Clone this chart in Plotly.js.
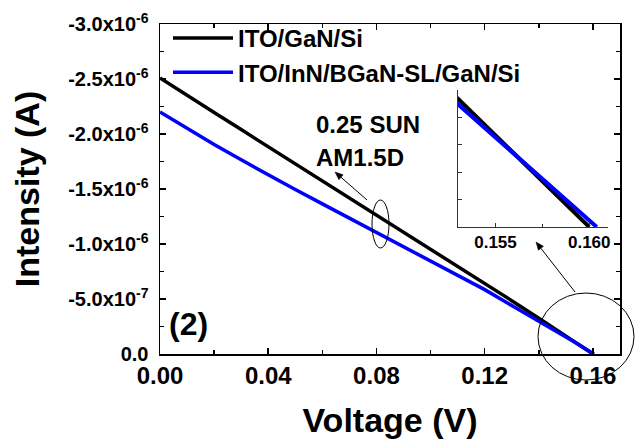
<!DOCTYPE html>
<html>
<head>
<meta charset="utf-8">
<script src="https://cdn.plot.ly/plotly-3.0.1.min.js"></script>
<style>html,body{margin:0;padding:0;background:#fff;}#chart{width:635px;height:439px;}</style>
</head>
<body>
<div id="chart"></div>
<script>
// ---- data ----
const seriesNames = ['ITO/GaN/Si', 'ITO/InN/BGaN-SL/GaN/Si'];
const voltageGaN = [0, 0.01, 0.02, 0.03, 0.04, 0.05, 0.06, 0.07, 0.08, 0.09, 0.10, 0.11, 0.12, 0.13, 0.14, 0.15, 0.153, 0.160];
const currentGaN = [-2.51e-6, -2.35e-6, -2.195e-6, -2.04e-6, -1.885e-6, -1.725e-6, -1.57e-6, -1.42e-6, -1.265e-6, -1.11e-6, -0.955e-6, -0.795e-6, -0.64e-6, -0.485e-6, -0.325e-6, -0.165e-6, -0.117e-6, 0];
const voltageSL = [0, 0.01, 0.02, 0.03, 0.04, 0.05, 0.06, 0.07, 0.08, 0.09, 0.10, 0.11, 0.12, 0.13, 0.14, 0.15, 0.153, 0.1604];
const currentSL = [-2.20e-6, -2.05e-6, -1.905e-6, -1.765e-6, -1.628e-6, -1.495e-6, -1.365e-6, -1.235e-6, -1.105e-6, -0.977e-6, -0.85e-6, -0.72e-6, -0.585e-6, -0.44e-6, -0.30e-6, -0.16e-6, -0.112e-6, 0];
const yTickVals = [0, -5e-7, -1e-6, -1.5e-6, -2e-6, -2.5e-6, -3e-6];
const yTickText = ['0.0', '-5.0x10<sup>-7</sup>', '-1.0x10<sup>-6</sup>', '-1.5x10<sup>-6</sup>', '-2.0x10<sup>-6</sup>', '-2.5x10<sup>-6</sup>', '-3.0x10<sup>-6</sup>'];
const xTickVals = [0, 0.04, 0.08, 0.12, 0.16];
const xTickText = ['0.00', '0.04', '0.08', '0.12', '0.16'];
const insetTickVals = [0.155, 0.160];
const insetTickText = ['0.155', '0.160'];

const FONT = 'Liberation Sans, Arial, Helvetica, sans-serif';
const BLACK = '#000000';
const BLUE = '#0000FF';

const traces = [
  {x: voltageGaN, y: currentGaN, name: seriesNames[0], mode: 'lines', line: {color: BLACK, width: 3.5}, xaxis: 'x', yaxis: 'y'},
  {x: voltageSL, y: currentSL, name: seriesNames[1], mode: 'lines', line: {color: BLUE, width: 3.5}, xaxis: 'x', yaxis: 'y'},
  {x: voltageGaN, y: currentGaN, name: seriesNames[0], mode: 'lines', line: {color: BLACK, width: 4}, xaxis: 'x2', yaxis: 'y2', showlegend: false},
  {x: voltageSL, y: currentSL, name: seriesNames[1], mode: 'lines', line: {color: BLUE, width: 4}, xaxis: 'x2', yaxis: 'y2', showlegend: false}
];

function px2paperX(px) { return (px - 160) / 460; }
function px2paperY(py) { return (354 - py) / 330; }

// arrow (line + filled head) drawn as paper shapes
function arrowShapes(hx, hy, tx, ty) {
  const dx = tx - hx, dy = ty - hy, L = Math.hypot(dx, dy);
  const ux = dx / L, uy = dy / L, px = -uy, py = ux;
  const hl = 8, hw = 3.2;
  const bx = hx + ux * hl, by = hy + uy * hl;
  const p1x = bx + px * hw, p1y = by + py * hw, p2x = bx - px * hw, p2y = by - py * hw;
  return [
    {type: 'line', xref: 'paper', yref: 'paper', x0: px2paperX(tx), y0: px2paperY(ty), x1: px2paperX(bx), y1: px2paperY(by), line: {color: '#000', width: 1}},
    {type: 'path', xref: 'paper', yref: 'paper',
     path: 'M' + px2paperX(hx) + ',' + px2paperY(hy) + ' L' + px2paperX(p1x) + ',' + px2paperY(p1y) + ' L' + px2paperX(p2x) + ',' + px2paperY(p2y) + ' Z',
     fillcolor: '#000', line: {color: '#000', width: 0.5}}
  ];
}

const layout = {
  width: 635, height: 439,
  margin: {l: 160, r: 15, t: 24, b: 85},
  paper_bgcolor: '#fff', plot_bgcolor: '#fff',
  font: {family: FONT, color: '#000', weight: 'bold'},
  showlegend: true,
  legend: {
    x: px2paperX(168), y: px2paperY(16), xanchor: 'left', yanchor: 'top',
    font: {family: FONT, size: 24, color: '#000', weight: 'bold'},
    bgcolor: 'rgba(0,0,0,0)', borderwidth: 0, itemwidth: 60, tracegroupgap: 0
  },
  xaxis: {
    domain: [0, 1], range: [0, 0.17], anchor: 'y',
    tickmode: 'array', tickvals: xTickVals, ticktext: xTickText,
    ticks: 'inside', ticklen: 6, tickwidth: 1.5, tickcolor: '#000',
    minor: {tickmode: 'linear', tick0: 0, dtick: 0.02, ticks: 'inside', ticklen: 4, tickwidth: 1.5, tickcolor: '#000'},
    showline: true, linecolor: '#000', linewidth: 1.5, mirror: 'ticks',
    showgrid: false, zeroline: false,
    tickfont: {family: FONT, size: 24, color: '#000', weight: 'bold'},
    title: {text: 'Voltage (V)', font: {family: FONT, size: 34, color: '#000', weight: 'bold'}, standoff: 28}
  },
  yaxis: {
    domain: [0, 1], range: [0, -3e-6], anchor: 'x',
    tickmode: 'array', tickvals: yTickVals, ticktext: yTickText,
    ticks: 'inside', ticklen: 6, tickwidth: 1.5, tickcolor: '#000',
    minor: {tickmode: 'linear', tick0: 0, dtick: 2.5e-7, ticks: 'inside', ticklen: 4, tickwidth: 1.5, tickcolor: '#000'},
    showline: true, linecolor: '#000', linewidth: 1.5, mirror: 'ticks',
    showgrid: false, zeroline: false,
    ticklabelstandoff: 6,
    tickfont: {family: FONT, size: 20, color: '#000', weight: 'bold'},
    title: {text: 'Intensity (A)', font: {family: FONT, size: 34, color: '#000', weight: 'bold'}, standoff: 18}
  },
  xaxis2: {
    domain: [px2paperX(458), px2paperX(608)], range: [0.153, 0.161], anchor: 'y2',
    tickmode: 'array', tickvals: insetTickVals, ticktext: insetTickText,
    ticks: 'inside', ticklen: 4, tickwidth: 1, tickcolor: '#333',
    minor: {tickmode: 'linear', tick0: 0.155, dtick: 0.0025, ticks: 'inside', ticklen: 3, tickwidth: 1, tickcolor: '#333'},
    showline: true, linecolor: '#333', linewidth: 1, mirror: false,
    showgrid: false, zeroline: false,
    tickfont: {family: FONT, size: 17, color: '#000', weight: 'bold'}
  },
  yaxis2: {
    domain: [px2paperY(227), px2paperY(90)], range: [0, -1.25e-7], anchor: 'x2',
    tickmode: 'linear', tick0: 0, dtick: 2.5e-8,
    ticks: 'inside', ticklen: 4, tickwidth: 1, tickcolor: '#333',
    showticklabels: false,
    showline: true, linecolor: '#333', linewidth: 1, mirror: false,
    showgrid: false, zeroline: false
  },
  shapes: [
    {type: 'circle', xref: 'paper', yref: 'paper', x0: px2paperX(372), x1: px2paperX(389), y0: px2paperY(248), y1: px2paperY(200), line: {color: '#000', width: 1}},
    {type: 'circle', xref: 'paper', yref: 'paper', x0: px2paperX(538), x1: px2paperX(634), y0: px2paperY(380), y1: px2paperY(293), line: {color: '#000', width: 1}}
  ].concat(arrowShapes(335, 172, 367, 200), arrowShapes(536, 242, 575, 292)),
  annotations: [
    {xref: 'paper', yref: 'paper', x: px2paperX(314), y: px2paperY(125), xanchor: 'left', yanchor: 'middle', text: '0.25 SUN', showarrow: false, font: {family: FONT, size: 24, color: '#000', weight: 'bold'}},
    {xref: 'paper', yref: 'paper', x: px2paperX(314), y: px2paperY(157), xanchor: 'left', yanchor: 'middle', text: 'AM1.5D', showarrow: false, font: {family: FONT, size: 24, color: '#000', weight: 'bold'}},
    {xref: 'paper', yref: 'paper', x: px2paperX(188), y: px2paperY(324), xanchor: 'center', yanchor: 'middle', text: '(2)', showarrow: false, font: {family: FONT, size: 32, color: '#000', weight: 'bold'}}
  ]
};

Plotly.newPlot('chart', traces, layout, {staticPlot: true, displayModeBar: false});
</script>
</body>
</html>
